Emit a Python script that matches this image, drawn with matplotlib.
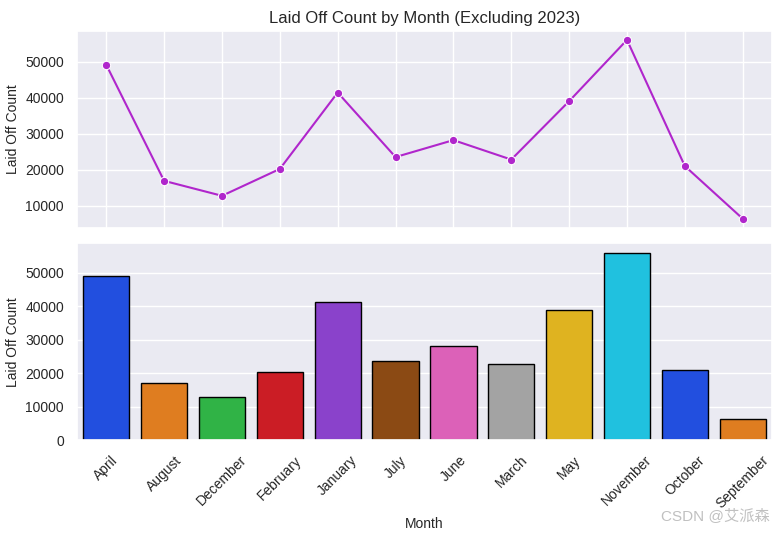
import matplotlib
matplotlib.use("Agg")
import matplotlib.pyplot as plt
import seaborn as sns

months = ["April", "August", "December", "February", "January", "July",
          "June", "March", "May", "November", "October", "September"]
laid_off = [49100, 16900, 12750, 20200, 41400, 23500,
            28200, 22800, 39000, 56000, 21000, 6400]

sns.set_theme(style="darkgrid")
plt.rcParams['font.family'] = ['Liberation Sans', 'Noto Sans CJK SC', 'DejaVu Sans']

fig, (ax1, ax2) = plt.subplots(2, 1, figsize=(7.81, 5.34), dpi=100, sharex=True)

# top: line
sns.lineplot(x=months, y=laid_off, marker="o", color="#b026cc", ax=ax1)
ax1.set_title("Laid Off Count by Month (Excluding 2023)", fontsize=12)
ax1.set_ylabel("Laid Off Count", fontsize=10)
ax1.tick_params(labelsize=10)

# bottom: bars (seaborn style desaturated palette)
pal = sns.color_palette("bright", 10, desat=0.75)
cols = [pal[i % 10] for i in range(len(months))]
ax2.bar(months, laid_off, color=cols, edgecolor="black", width=0.8)
ax2.set_xlabel("Month", fontsize=10)
ax2.set_ylabel("Laid Off Count", fontsize=10)
ax2.set_xlim(-0.5, len(months) - 0.5)
ax2.tick_params(labelsize=10)
ax2.xaxis.grid(False)
plt.setp(ax2.get_xticklabels(), rotation=45)

fig.subplots_adjust(left=0.099, right=0.988, top=0.942, bottom=0.176, hspace=0.08)

fig.text(0.985, 0.02, "CSDN @艾派森", ha="right", va="bottom", fontsize=11,
         color="#c0c0c0")

fig.savefig("out.png", dpi=100)
